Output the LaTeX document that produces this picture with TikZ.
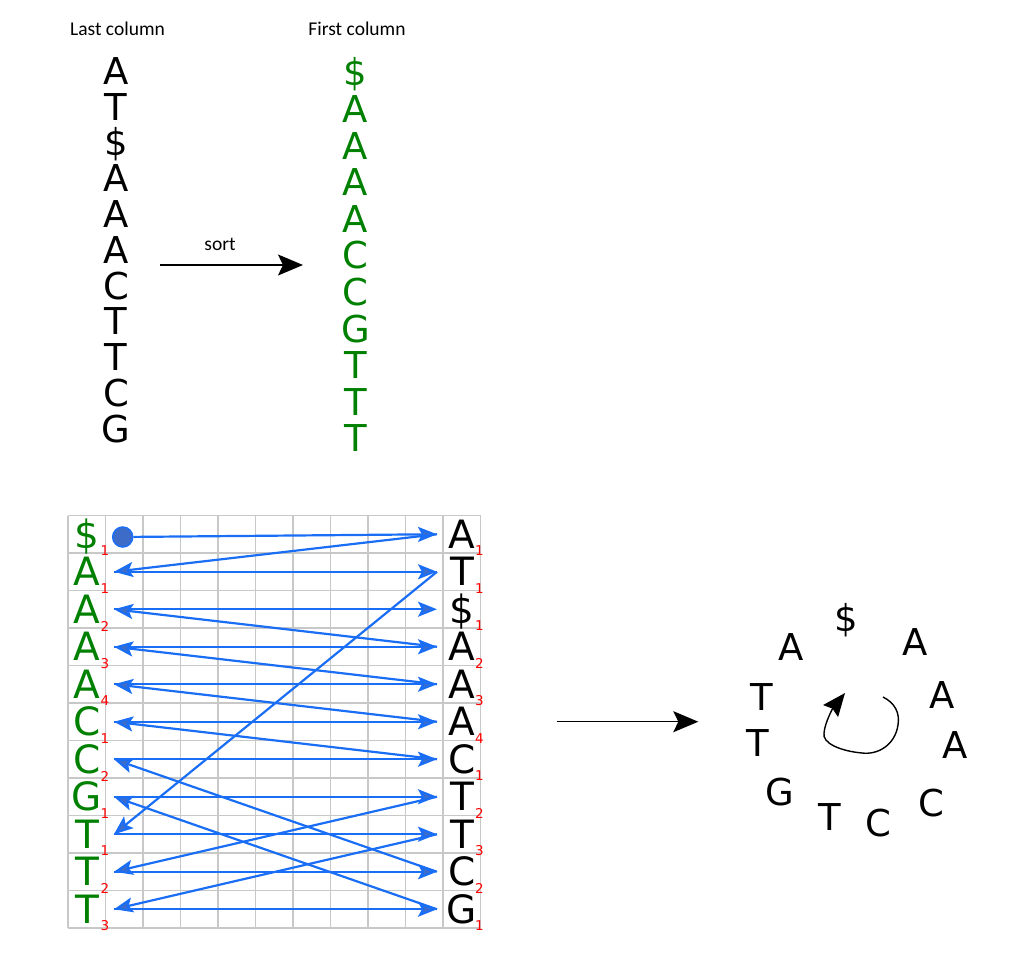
\documentclass[tikz,border=0pt]{standalone}
\usepackage{fontspec}
\setmainfont{DejaVu Sans}
\newfontfamily\calfont{Carlito}
\usepackage{xcolor}
\usetikzlibrary{arrows.meta}
\definecolor{dnagreen}{RGB}{0,128,0}
\definecolor{lfblue}{RGB}{26,110,245}
\definecolor{dotblue}{RGB}{60,108,200}
\definecolor{gridgray}{RGB}{200,200,200}
\tikzset{
    tnode/.style = {inner sep=0pt, text centered},
    big/.style = {tnode, font=\fontsize{37}{37}\selectfont, text height=27pt, text depth=0pt},
    cell/.style = {tnode, font=\fontsize{39}{39}\selectfont, text height=28.4pt, text depth=0pt},
    first_node/.style = {cell, dnagreen},
    last_node/.style = {cell, black},
    idx/.style = {tnode, red, font=\fontsize{13.5}{13.5}\selectfont},
    caption/.style = {tnode, font=\calfont\fontsize{19.5}{19.5}\selectfont},
    grid_line/.style = {draw=gridgray, line width=1.2pt},
    lf_arrow/.style = {draw=lfblue, line width=2.2pt, -{Stealth[length=19pt, width=15pt, inset=4pt, fill=dotblue]}},
    big_arrow/.style = {draw=black, line width=1.5pt, -{Stealth[length=25pt, width=21pt, inset=5pt]}}
}

\begin{document}
\begin{tikzpicture}[x=1pt, y=-1pt]
    \useasboundingbox (0,0) rectangle (1023,969);

    % last and first column
    \node[caption] (lasttitle) at (117.5,29) {Last column};
    \node[caption] (firsttitle) at (357,29) {First column};
    \foreach \c [count=\i from 0] in {A,T,\$,A,A,A,C,T,T,C,G}
        \node[big] (lt\i) at (116,70.8+35.8*\i) {\c};
    \foreach \c [count=\i from 0] in {\$,A,A,A,A,C,C,G,T,T,T}
        \node[big, dnagreen] (ft\i) at (355.5,72.4+36.6*\i) {\c};

    \coordinate (sortfrom) at (160,265);
    \coordinate (sortto) at (303,265);
    \draw[big_arrow] (sortfrom) -- (sortto);
    \node[caption] (sortlabel) at (220,244) {sort};

    % grid
    \foreach \k in {0,...,11} {
        \draw[grid_line] (68+37.5*\k,515.5) -- (68+37.5*\k,928);
        \draw[grid_line] (68,515.5+37.5*\k) -- (480.5,515.5+37.5*\k);
    }
    \foreach \c/\s [count=\i from 0] in {\$/1,A/1,A/2,A/3,A/4,C/1,C/2,G/1,T/1,T/2,T/3} {
        \node[first_node] (f\i) at (87,534.25+37.5*\i) {\c};
        \node[idx] (fsub\i) at (105,551+37.5*\i) {\s};
    }
    \foreach \c/\s [count=\i from 0] in {A/1,T/1,\$/1,A/2,A/3,A/4,C/1,T/2,T/3,C/2,G/1} {
        \node[last_node] (l\i) at (462,534.25+37.5*\i) {\c};
        \node[idx] (lsub\i) at (479.5,551+37.5*\i) {\s};
    }

    % LF mapping
    \node[circle, fill=dotblue, draw=lfblue, line width=1.5pt, minimum size=20pt, inner sep=0pt] (start) at (122.7,537) {};
    \draw[lf_arrow] (start) -- ([xshift=-25pt]l0.center);
    \foreach \i in {1,...,10}
        \draw[lf_arrow] ([xshift=27pt]f\i.center) -- ([xshift=-25pt]l\i.center);
    \foreach \i/\j in {0/1,1/8,8/10,10/7,7/9,9/6,6/5,5/4,4/3,3/2}
        \draw[lf_arrow] ([xshift=-25pt]l\i.center) -- ([xshift=27pt]f\j.center);

    \coordinate (mapfrom) at (556.7,721.7);
    \coordinate (mapto) at (698.3,721.7);
    \draw[big_arrow] (mapfrom) -- (mapto);

    % ring
    \foreach \c/\x/\y [count=\i] in {\$/846/618.3, A/915/641.7, A/941.7/695, A/955/745, C/931.7/803.3, C/878.3/823.3, T/829.3/816.7, G/780/791.7, T/757.7/743.3, T/761.7/696.7, A/790.7/646.7}
        \node[big] (r\i) at (\x,\y) {\c};
    \coordinate (curlstart) at (883,697);
    \draw[line width=1.4pt, -{Stealth[length=23pt, width=19pt, inset=3pt]}]
        (curlstart) .. controls (895,703) and (900,713) .. (898,725)
        .. controls (895,745) and (878,755) .. (862,753)
        .. controls (840,751) and (822,743) .. (824,733)
        .. controls (825,722) and (833,708) .. (845,693);
\end{tikzpicture}
\end{document}
